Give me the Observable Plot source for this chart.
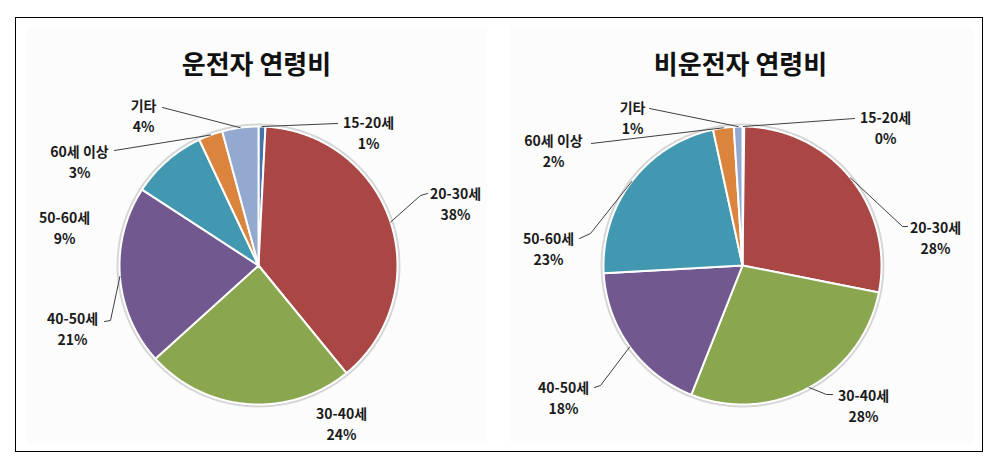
<!DOCTYPE html>
<html>
<head>
<meta charset="utf-8">
<script src="https://cdn.jsdelivr.net/npm/d3@7"></script>
<script src="https://cdn.jsdelivr.net/npm/@observablehq/plot@0.6"></script>
<style>
  html, body { margin: 0; padding: 0; background: #fff; }
  body { width: 993px; height: 458px; position: relative; overflow: hidden;
         font-family: "Noto Sans CJK KR", "Noto Sans", sans-serif; }
  #frame { position: absolute; left: 15px; top: 17px; width: 966px; height: 433px;
           border: 1.5px solid #000; }
  .panel { position: absolute; top: 27px; height: 416px; background: #fcfcfc; }
  .chart { position: absolute; top: 18px; }
</style>
</head>
<body>
<div id="frame"></div>
<div class="panel" style="left:27px;width:460px"></div>
<div class="panel" style="left:510px;width:463px"></div>
<div class="chart" id="c0" style="left:16px"></div>
<div class="chart" id="c1" style="left:500px"></div>
<script>
// ---- data ----
const categories = ["15-20세", "20-30세", "30-40세", "40-50세", "50-60세", "60세 이상", "기타"];
const driverValues = [0.8, 38.3, 24.2, 20.9, 8.8, 2.8, 4.2];
const nonDriverValues = [0.2, 27.9, 27.9, 18.1, 22.5, 2.4, 1.0];
const titles = ["운전자 연령비", "비운전자 연령비"];
const sliceColors = ["#4572a7", "#aa4644", "#8aa64f", "#71598f", "#4298b0", "#db843d", "#93a9d0"];

// ---- layout (pixel offsets from pie centre) ----
const labelOffsets = [
  [[110,-134],[197,-62.5],[83,157],[-186,62.5],[-194,-39],[-179,-105],[-115,-151]],
  [[143,-139],[193,-29],[121,139.5],[-179,131],[-194,-17.5],[-189,-116],[-110,-149]]
];
// leader lines: null = none; otherwise list of [dx,dy] after the slice-edge point
const leaderOffsets = [
  [[[79,-142]], [[162,-70],[169,-72]], null, [[-148,55],[-154,56]], null, [[-144,-115]], [[-96,-158]]],
  [[[112,-147]], [[160,-39],[165,-39]], [[84,129],[90,129]], [[-142,120],[-148,122]], [[-152,-32],[-163,-27]], [[-151,-122]], [[-93,-157]]]
];

const W = 480, H = 434, CX = 242, CY = 247, R = 139;

function pieChart(values, title, labOff, leadOff) {
  const total = d3.sum(values);
  const slices = [];
  const labels = [];
  const leaders = [];
  let acc = 0;
  values.forEach((v, i) => {
    const a0 = acc / total * 2 * Math.PI;
    acc += v;
    const a1 = acc / total * 2 * Math.PI;
    const cat = categories[i];
    slices.push({cat, x: 0, y: 0});
    const n = Math.max(2, Math.ceil((a1 - a0) / (Math.PI / 360)));
    for (let k = 0; k <= n; k++) {
      const a = a0 + (a1 - a0) * k / n;
      slices.push({cat, x: Math.sin(a), y: Math.cos(a)});
    }
    const am = (a0 + a1) / 2;
    labels.push({cat, x: labOff[i][0] / R, y: -labOff[i][1] / R,
                 text: cat + "\n" + Math.round(v) + "%"});
    if (leadOff[i]) {
      leaders.push({cat, x: Math.sin(am), y: Math.cos(am)});
      leadOff[i].forEach(p => leaders.push({cat, x: p[0] / R, y: -p[1] / R}));
    }
  });
  const ring = d3.range(0, 361, 1).map(t => ({x: 1.012 * Math.sin(t * Math.PI / 180), y: 1.012 * Math.cos(t * Math.PI / 180)}));

  return Plot.plot({
    width: W, height: H,
    margin: 0,
    x: {domain: [-CX / R, (W - CX) / R], axis: null},
    y: {domain: [-(H - CY) / R, CY / R], axis: null},
    color: {domain: categories, range: sliceColors},
    style: {background: "transparent", fontFamily: '"Noto Sans CJK KR", "Noto Sans", sans-serif'},
    marks: [
      Plot.line(ring, {x: "x", y: "y", stroke: "#d6d6d6", strokeWidth: 2.5, fill: "none", curve: "linear-closed"}),
      Plot.line(slices, {x: "x", y: "y", z: "cat", fill: "cat", stroke: "white", strokeWidth: 2, strokeLinejoin: "round", curve: "linear-closed"}),
      Plot.line(leaders, {x: "x", y: "y", z: "cat", stroke: "#404040", strokeWidth: 1}),
      Plot.text(labels, {x: "x", y: "y", text: "text", fontSize: 14, fontWeight: "bold", lineHeight: 1.5, fill: "#1a1a1a"}),
      Plot.text([title], {text: d => d, frameAnchor: "top", dy: 47, fontSize: 26, fontWeight: "bold", fill: "#111", lineAnchor: "middle"})
    ]
  });
}

document.getElementById("c0").appendChild(pieChart(driverValues, titles[0], labelOffsets[0], leaderOffsets[0]));
document.getElementById("c1").appendChild(pieChart(nonDriverValues, titles[1], labelOffsets[1], leaderOffsets[1]));
</script>
</body>
</html>
